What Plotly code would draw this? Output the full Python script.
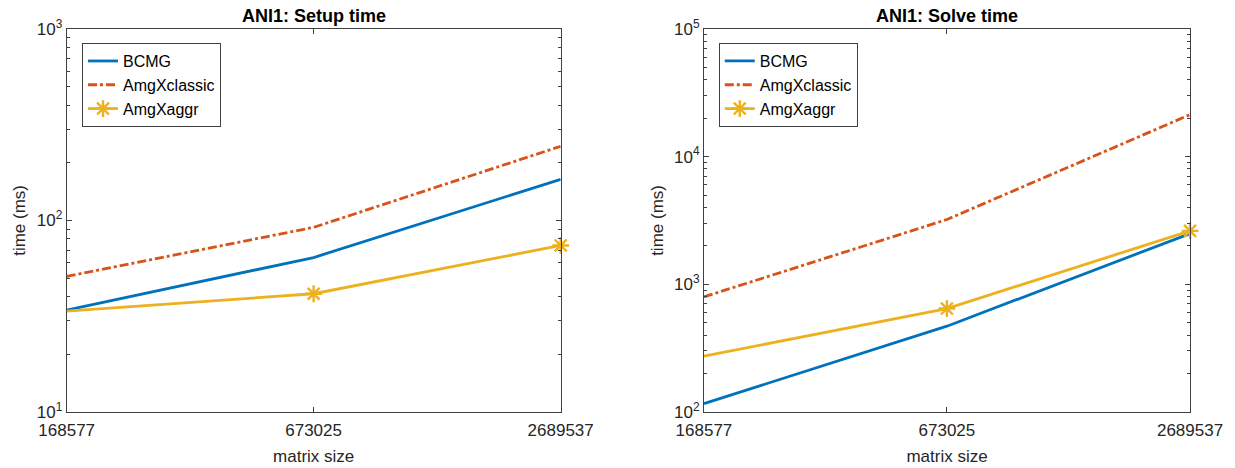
import math
import plotly.graph_objects as go

sizes = [168577, 673025, 2689537]
size_labels = ["168577", "673025", "2689537"]

setup_bcmg = [34, 64, 164]
setup_classic = [51, 92, 244]
setup_aggr = [33.6, 41.4, 74]

solve_bcmg = [116, 469, 2494]
solve_classic = [796, 3213, 21330]
solve_aggr = [273, 645, 2618]

series_names = ["BCMG", "AmgXclassic", "AmgXaggr"]
colors = ["#0072BD", "#D95319", "#EDB120"]

FONT = "Liberation Sans, Arial, sans-serif"
AX = "#404040"
TXT = "#262626"

fig = go.Figure()

def add_panel(ys, xa, ya, legend):
    b, c, a = ys
    fig.add_trace(go.Scatter(x=sizes, y=b, name=series_names[0], mode="lines",
                             line=dict(color=colors[0], width=2.8),
                             xaxis=xa, yaxis=ya, legend=legend))
    fig.add_trace(go.Scatter(x=sizes, y=c, name=series_names[1], mode="lines",
                             line=dict(color=colors[1], width=2.8, dash="dashdot"),
                             xaxis=xa, yaxis=ya, legend=legend))
    fig.add_trace(go.Scatter(x=sizes, y=a, name=series_names[2], mode="lines+markers",
                             line=dict(color=colors[2], width=2.8),
                             marker=dict(symbol="asterisk-open", size=14,
                                         line=dict(color=colors[2], width=2.4)),
                             xaxis=xa, yaxis=ya, legend=legend, cliponaxis=False))

add_panel((setup_bcmg, setup_classic, setup_aggr), "x", "y", "legend")
add_panel((solve_bcmg, solve_classic, solve_aggr), "x2", "y2", "legend2")

xr = [math.log10(sizes[0]), math.log10(sizes[-1])]

def xaxis(domain, anchor):
    return dict(domain=domain, anchor=anchor, type="log", range=xr, automargin=False,
                tickvals=sizes, ticktext=size_labels, ticks="inside", ticklen=5,
                ticklabelstandoff=3,
                showline=True, linecolor=AX, linewidth=1, mirror="allticks",
                tickcolor=AX, showgrid=False, zeroline=False,
                tickfont=dict(family=FONT, size=17, color=TXT),
                title=dict(text="matrix size", font=dict(family=FONT, size=17, color=TXT),
                           standoff=10))

def yaxis(domain, anchor, lo, hi):
    vals = [10 ** k for k in range(lo, hi + 1)]
    txt = ["10<sup>%d</sup>" % k for k in range(lo, hi + 1)]
    minor_vals = [m * 10 ** k for k in range(lo, hi) for m in range(2, 10)]
    return dict(domain=domain, anchor=anchor, type="log", range=[lo, hi], automargin=False,
                tickvals=vals, ticktext=txt, ticks="inside", ticklen=5,
                showline=True, linecolor=AX, linewidth=1, mirror="allticks",
                tickcolor=AX, showgrid=False, zeroline=False,
                minor=dict(ticks="inside", ticklen=3, tickcolor=AX, showgrid=False,
                           tickmode="array", tickvals=minor_vals),
                tickfont=dict(family=FONT, size=17, color=TXT),
                title=dict(text="time (ms)", font=dict(family=FONT, size=17, color=TXT),
                           standoff=6))

ydom = [0.12, 0.938]
xd1 = [0.054, 0.454]
xd2 = [0.570, 0.9636]
legend_style = dict(xanchor="left", yanchor="top", bordercolor=AX, borderwidth=1,
                    bgcolor="white", font=dict(family=FONT, size=16, color="#000000"),
                    tracegroupgap=0)
fig.update_layout(
    width=1235, height=468,
    margin=dict(l=0, r=0, t=0, b=0),
    paper_bgcolor="white", plot_bgcolor="white",
    font=dict(family=FONT, color=TXT),
    xaxis=xaxis(xd1, "y"),
    yaxis=yaxis(ydom, "x", 1, 3),
    xaxis2=xaxis(xd2, "y2"),
    yaxis2=yaxis(ydom, "x2", 2, 5),
    legend=dict(x=0.0664, y=0.908, **legend_style),
    legend2=dict(x=0.582, y=0.908, **legend_style),
    annotations=[
        dict(text="<b>ANI1: Setup time</b>", x=sum(xd1) / 2, y=1 - 16 / 468,
             xref="paper", yref="paper", xanchor="center", yanchor="middle",
             showarrow=False, font=dict(family=FONT, size=18, color="#000000")),
        dict(text="<b>ANI1: Solve time</b>", x=sum(xd2) / 2, y=1 - 16 / 468,
             xref="paper", yref="paper", xanchor="center", yanchor="middle",
             showarrow=False, font=dict(family=FONT, size=18, color="#000000")),
    ],
)

fig.write_html("out.html")
